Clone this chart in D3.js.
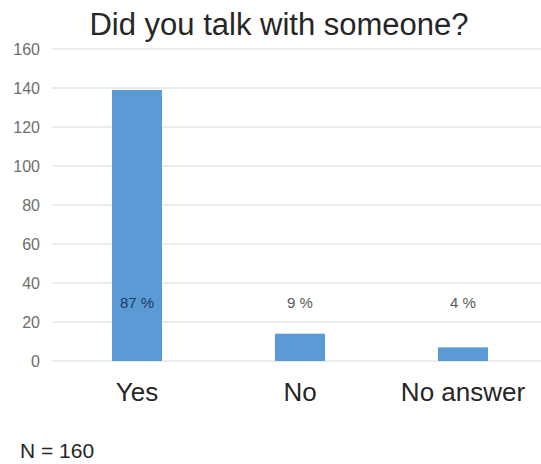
<!DOCTYPE html>
<html><head><meta charset="utf-8">
<script src="https://cdn.jsdelivr.net/npm/d3@7/dist/d3.min.js"></script>
<style>body{margin:0;background:#fff}svg{display:block;font-family:"Liberation Sans",Arial,sans-serif}</style>
</head><body>
<script>
const categories = ["Yes", "No", "No answer"];
const counts = [139, 14, 7];
const percentLabels = ["87 %", "9 %", "4 %"];
const yTicks = [0, 20, 40, 60, 80, 100, 120, 140, 160];
const title = "Did you talk with someone?";
const note = "N = 160";

const W = 541, H = 464;
const svg = d3.select("body").append("svg").attr("width", W).attr("height", H);

const y = d3.scaleLinear().domain([0, 160]).range([361, 49]);
const x = d3.scaleBand().domain(categories).range([55.5, 544.5])
  .paddingInner(0.693).paddingOuter(0.3465);

// gridlines
svg.append("g").selectAll("line").data(yTicks).join("line")
  .attr("x1", 52).attr("x2", W)
  .attr("y1", d => y(d)).attr("y2", d => y(d))
  .attr("stroke", "#d9d9d9").attr("stroke-width", 1.2);

// y axis labels
const yAxis = d3.axisLeft(y).tickValues(yTicks).tickSize(0).tickPadding(0);
const ga = svg.append("g").attr("transform", "translate(40,0)").call(yAxis);
ga.select(".domain").remove();
ga.selectAll("text").attr("fill", "#6e6e6e").style("font-size", "16px")
  .style("font-family", "'Liberation Sans',Arial,sans-serif");

// bars
svg.append("g").selectAll("rect").data(counts).join("rect")
  .attr("x", (d, i) => x(categories[i]))
  .attr("width", x.bandwidth())
  .attr("y", d => y(d))
  .attr("height", d => y(0) - y(d))
  .attr("fill", "#5b9bd5");

// percentage labels
svg.append("g").selectAll("text").data(percentLabels).join("text")
  .attr("x", (d, i) => x(categories[i]) + x.bandwidth() / 2)
  .attr("y", 308)
  .attr("text-anchor", "middle")
  .attr("fill", (d, i) => i === 0 ? "#1f3a5f" : "#595959")
  .style("font-size", "15px")
  .text(d => d);

// x axis labels
const xAxis = d3.axisBottom(x).tickSize(0).tickPadding(0);
const gx = svg.append("g").attr("transform", "translate(0,383)").call(xAxis);
gx.select(".domain").remove();
gx.selectAll("text").attr("fill", "#262626").style("font-size", "26px")
  .style("font-family", "'Liberation Sans',Arial,sans-serif");

// title
svg.append("text").attr("x", 279).attr("y", 35).attr("text-anchor", "middle")
  .attr("fill", "#262626").style("font-size", "31px").text(title);

// note
svg.append("text").attr("x", 20).attr("y", 458)
  .attr("fill", "#262626").style("font-size", "21px").text(note);
</script>
</body></html>
